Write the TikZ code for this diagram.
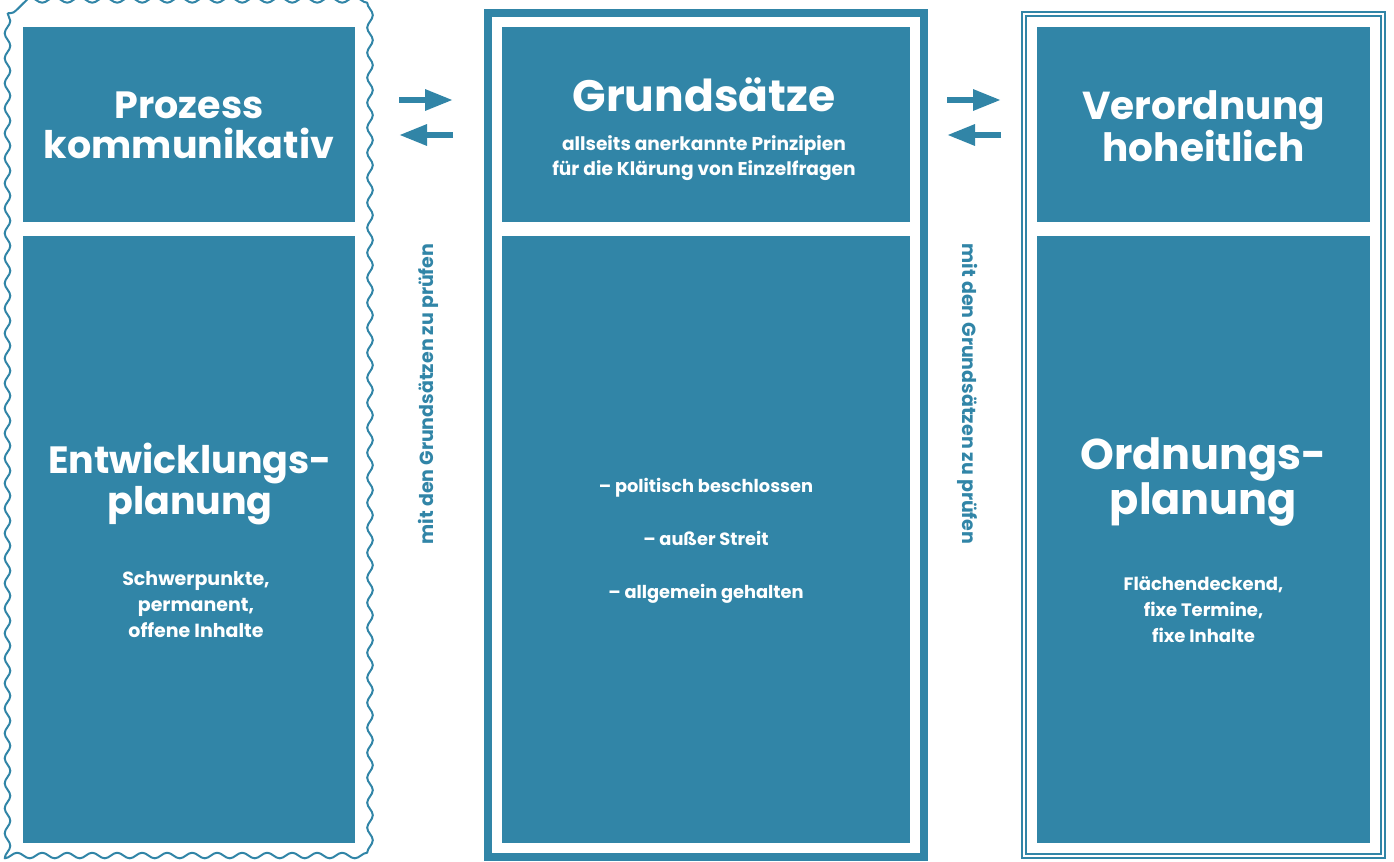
\documentclass[tikz,border=0pt]{standalone}
\usepackage{fontspec}
\setmainfont{Poppins}
\usetikzlibrary{arrows.meta}
\usetikzlibrary{calc, fit, backgrounds}
\usetikzlibrary{decorations.pathmorphing}
\definecolor{planblue}{RGB}{49,133,167}

\begin{document}
\begin{tikzpicture}[x=0.5pt,y=-0.5pt]
        \tikzset{box/.style = {fill=planblue, inner sep=0pt, outer sep=0pt, minimum width=166pt}}
        \tikzset{txt/.style = {text=white, font=\bfseries, align=center, inner sep=0pt}}
        \tikzset{big/.style = {txt, font=\bfseries\fontsize{19}{20}\selectfont}}
        \tikzset{small/.style = {txt, font=\bfseries\fontsize{9}{13}\selectfont}}
        \tikzset{side/.style = {text=planblue, font=\bfseries\fontsize{9.5}{11}\selectfont, inner sep=0pt}}
        \tikzset{flow/.style = {planblue, line width=3pt, -{Triangle[length=14pt,width=10pt]}}}
        \useasboundingbox (0,0) rectangle (1394,862);

        % left column
        \node[box, minimum height=97.5pt] (1) at (189, 124.5) {};
        \node[box, minimum height=303.5pt] (2) at (189, 539.5) {};
        % middle column
        \node[box, minimum width=204pt, minimum height=97.5pt] (3) at (706, 124.5) {};
        \node[box, minimum width=204pt, minimum height=303.5pt] (4) at (706, 539.5) {};
        % right column
        \node[box, minimum width=166.5pt, minimum height=97.5pt] (5) at (1203.5, 124.5) {};
        \node[box, minimum width=166.5pt, minimum height=303.5pt] (6) at (1203.5, 539.5) {};

        \draw[planblue, line width=1pt, line join=round, decoration={snake, segment length=12.5pt, amplitude=1.4pt}, decorate]
            (7.5, 13) rectangle (368, 856);
        \node[draw=planblue, line width=4pt, inner sep=7pt, fit=(3)(4)] (7) {};
        \node[draw=planblue, line width=1.1pt, double, double distance=1.1pt, inner sep=6.5pt, fit=(5)(6)] (8) {};

        \node[big] (t1) at (189, 125) {Prozess\\kommunikativ};
        \node[txt, font=\bfseries\fontsize{22}{24}\selectfont] (t3) at (704, 95) {Grundsätze};
        \node[small, font=\bfseries\fontsize{9.3}{12.5}\selectfont] (s3) at (704, 158) {allseits anerkannte Prinzipien\\für die Klärung von Einzelfragen};
        \node[big, font=\bfseries\fontsize{19.5}{21}\selectfont] (t5) at (1203.5, 126) {Verordnung\\hoheitlich};

        \node[txt, font=\bfseries\fontsize{19}{19}\selectfont] (t2) at (190, 484) {Entwicklungs-\\planung};
        \node[small, font=\bfseries\fontsize{9.5}{13}\selectfont] (s2) at (196, 605) {Schwerpunkte,\\permanent,\\offene Inhalte};
        \node[small, font=\bfseries\fontsize{8.9}{26.5}\selectfont] (s4) at (706, 541) {– politisch beschlossen\\– außer Streit\\– allgemein gehalten};
        \node[txt, font=\bfseries\fontsize{21.5}{21}\selectfont] (t6) at (1203.5, 482) {Ordnungs-\\planung};
        \node[small] (s6) at (1203.5, 610) {Flächendeckend,\\fixe Termine,\\fixe Inhalte};

        \node[side, rotate=90] (l1) at (428, 394) {mit den Grundsätzen zu prüfen};
        \node[side, rotate=-90] (l2) at (968, 394) {mit den Grundsätzen zu prüfen};

        \coordinate (a1) at (399, 100);
        \coordinate (b1) at (453, 100);
        \coordinate (a2) at (453, 135);
        \coordinate (b2) at (399, 135);
        \coordinate (a3) at (947, 100);
        \coordinate (b3) at (1001, 100);
        \coordinate (a4) at (1001, 135);
        \coordinate (b4) at (947, 135);

        \draw[flow] (a1) to (b1);
        \draw[flow] (a2) to (b2);
        \draw[flow] (a3) to (b3);
        \draw[flow] (a4) to (b4);
      \end{tikzpicture}
\end{document}
